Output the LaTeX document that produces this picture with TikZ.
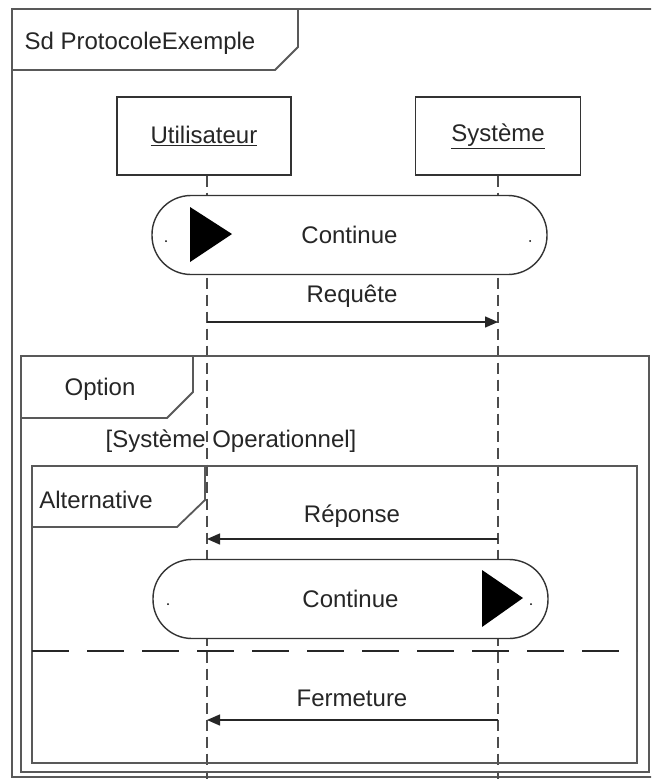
\documentclass[tikz,border=0pt]{standalone}
\usepackage{fontspec}
\setmainfont{Liberation Sans}
\usetikzlibrary{arrows.meta}

\tikzset{
  umlframe/.style={draw=black!65, line width=1.8pt},
  lifebox/.style={draw=black!80, line width=1.4pt, fill=white, minimum height=78pt, inner sep=0pt},
  lifeline/.style={draw=black!70, line width=1.4pt, dash pattern=on 11pt off 6pt},
  continuebox/.style={draw=black!80, line width=1.4pt, fill=white, rounded corners=39pt,
    minimum width=395pt, minimum height=79pt, inner sep=0pt},
  msg/.style={draw=black!85, line width=1.4pt, -{Triangle[length=13pt,width=11pt]}},
  separator/.style={draw=black!85, line width=1.4pt, dash pattern=on 37pt off 18pt}
}

\begin{document}
\begin{tikzpicture}[x=1pt, y=-1pt, font=\fontsize{24}{28}\selectfont, text=black!85]
  \clip (0,0) rectangle (651,779);
  \fill[white] (0,0) rectangle (651,779);

  % Outer frame and its title tab
  \draw[umlframe] (12,9) rectangle (670,777);
  \draw[umlframe] (12,70) -- (275,70) -- (298,47) -- (298,9);
  \node (sd) at (140,43) {Sd ProtocoleExemple};

  % Heads of the two lifelines
  \node[lifebox, minimum width=174pt] (ut) at (204,136) {\underline{Utilisateur}};
  \node[lifebox, minimum width=165pt] (sy) at (498,136) {\underline{Système}};
  \coordinate (ut-end) at (207,790);
  \coordinate (sy-end) at (498,790);
  \draw[lifeline] (ut.south -| ut-end) -- (ut-end);
  \draw[lifeline] (sy.south) -- (sy-end);

  % First continuation, arrow on the left
  \node[continuebox] (cont1) at (349.5,235) {Continue};
  \fill (190,207) -- (232,234) -- (190,262) -- cycle;
  \fill (166,241) circle (1pt);
  \fill (530,241) circle (1pt);

  % Requete
  \node (req) at (352,296) {Requête};
  \draw[msg] (ut-end |- 0,322) -- (sy-end |- 0,322);

  % Option fragment
  \draw[umlframe] (21,356) rectangle (649,772);
  \draw[umlframe] (21,418) -- (167,418) -- (193,392) -- (193,356);
  \node (opt) at (100,389) {Option};
  \node (guard) at (231,441) {[Système Operationnel]};

  % Alternative fragment
  \draw[umlframe] (32,466) rectangle (637,763);
  \draw[umlframe] (32,527) -- (177,527) -- (205,500) -- (205,466);
  \node (alt) at (96,500) {Alternative};

  % Reponse
  \node (rep) at (352,516) {Réponse};
  \draw[msg] (sy-end |- 0,539) -- (ut-end |- 0,539);

  % Second continuation, arrow on the right
  \node[continuebox] (cont2) at (350.5,599) {Continue};
  \fill (482,570) -- (523,598) -- (482,627) -- cycle;
  \fill (168,604) circle (1pt);
  \fill (531,604) circle (1pt);

  % Operand separator
  \draw[separator] (32,651) -- (637,651);

  % Fermeture
  \node (ferm) at (352,698) {Fermeture};
  \draw[msg] (sy-end |- 0,720) -- (ut-end |- 0,720);
\end{tikzpicture}
\end{document}
